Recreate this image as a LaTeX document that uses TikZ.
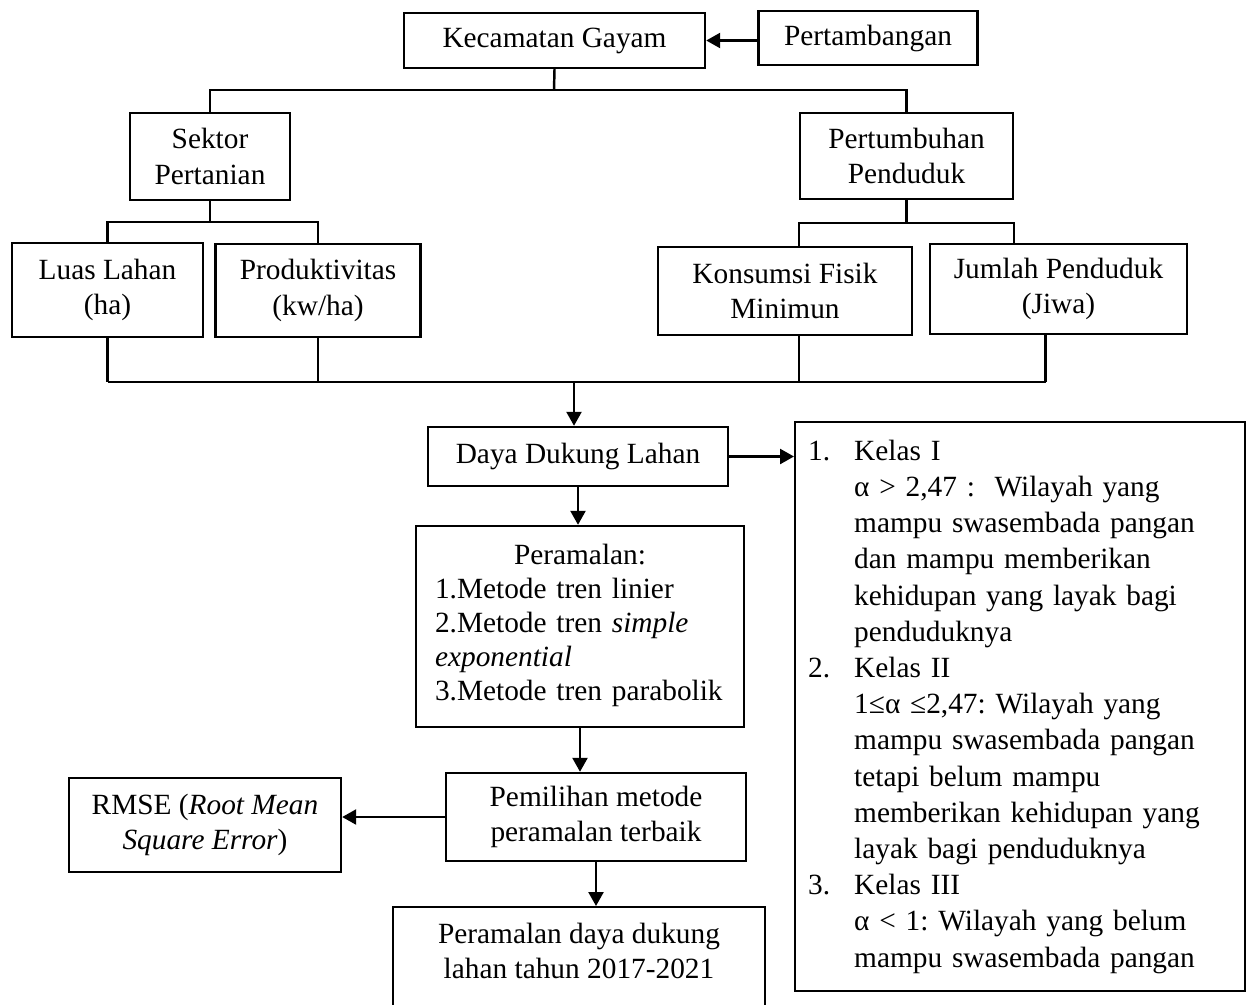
\documentclass[tikz,border=0pt]{standalone}
\usepackage{fontspec}
\setmainfont{Liberation Serif}
\usetikzlibrary{arrows.meta}
\frenchspacing

\newcommand{\kelasno}[1]{\makebox[0.92cm][l]{#1}}
\newcommand{\kelasind}{\hspace*{0.92cm}}

\begin{document}
\begin{tikzpicture}[x=0.02cm, y=-0.02cm,
    box/.style={draw, line width=1.4pt, align=center, inner sep=0pt,
        font=\fontsize{16.7}{20.4}\selectfont},
    ln/.style={line width=1.4pt},
    arr/.style={line width=1.4pt, -{Triangle[length=0.28cm, width=0.3cm]}}]
    \useasboundingbox (0,0) rectangle (1246,1004);

    \node[box, minimum width=6.02cm, minimum height=1.1cm] (kec) at (554.5,40.5) {Kecamatan Gayam};
    \node[box, minimum width=4.38cm, minimum height=1.08cm] (tambang) at (868,38) {Pertambangan};
    \node[box, minimum width=3.2cm, minimum height=1.74cm] (sektor) at (210,156.5) {Sektor\\Pertanian};
    \node[box, minimum width=4.26cm, minimum height=1.72cm] (tumbuh) at (906.5,156) {Pertumbuhan\\Penduduk};
    \node[box, minimum width=3.82cm, minimum height=1.88cm] (luas) at (107.5,290) {Luas Lahan\\(ha)};
    \node[box, minimum width=4.1cm, minimum height=1.86cm] (produk) at (318,290.5) {Produktivitas\\(kw/ha)};
    \node[box, minimum width=5.08cm, minimum height=1.76cm] (konsumsi) at (785,291) {Konsumsi Fisik\\Minimun};
    \node[box, minimum width=5.14cm, minimum height=1.8cm] (jumlah) at (1058.5,289) {Jumlah Penduduk\\(Jiwa)};
    \node[box, minimum width=6cm, minimum height=1.18cm] (daya) at (578,456.5) {Daya Dukung Lahan};
    \node[box, align=left, text width=5.8cm, inner xsep=0.38cm, minimum height=4.02cm,
        font=\fontsize{16.7}{19.4}\selectfont] (peramal) at (580,626.5)
        {\makebox[5.8cm]{Peramalan:}\\1.Metode tren linier\\2.Metode tren \textit{simple}\\\textit{exponential}\\3.Metode tren parabolik\rule[-0.16cm]{0pt}{0pt}};
    \node[box, minimum width=6cm, minimum height=1.76cm] (pilih) at (596,817) {Pemilihan metode\\peramalan terbaik};
    \node[box, minimum width=5.44cm, minimum height=1.88cm] (rmse) at (205,825) {RMSE (\textit{Root Mean}\\\textit{Square Error})};
    \node[box, anchor=north, minimum width=7.44cm, inner ysep=0.31cm] (akhir) at (579,906)
        {Peramalan daya dukung\\lahan tahun 2017-2021\rule[-1cm]{0pt}{0pt}};
    \node[box, anchor=north west, align=left, text width=8.48cm, inner xsep=0.26cm, minimum height=11.38cm,
        font=\fontsize{16.7}{20.6}\selectfont] (kelas) at (794,421)
        {\kelasno{1.}Kelas I\\
         \kelasind α > 2,47 :\ \ Wilayah yang\\
         \kelasind mampu swasembada pangan\\
         \kelasind dan mampu memberikan\\
         \kelasind kehidupan yang layak bagi\\
         \kelasind penduduknya\\
         \kelasno{2.}Kelas II\\
         \kelasind 1≤α ≤2,47: Wilayah yang\\
         \kelasind mampu swasembada pangan\\
         \kelasind tetapi belum mampu\\
         \kelasind memberikan kehidupan yang\\
         \kelasind layak bagi penduduknya\\
         \kelasno{3.}Kelas III\\
         \kelasind α < 1: Wilayah yang belum\\
         \kelasind mampu swasembada pangan};

    % cabang atas
    \coordinate (jkec) at (554,90);
    \coordinate (jsek) at (212,222);
    \coordinate (jtum) at (907,223);
    \coordinate (jbawah) at (574,382);
    \draw[arr] (tambang.west |- kec.east) -- (kec.east);
    \draw[ln] (kec.south) -- (jkec);
    \draw[ln] (sektor.north) |- (tumbuh.north |- jkec) -- (tumbuh.north);
    \draw[ln] (sektor.south) -- (sektor.south |- jsek);
    \draw[ln] (luas.north) |- (produk.north |- jsek) -- (produk.north);
    \draw[ln] (tumbuh.south) -- (tumbuh.south |- jtum);
    \draw[ln] (konsumsi.north -| tumbuh.west) -- (tumbuh.west |- jtum) -- (tumbuh.east |- jtum) -- (jumlah.north -| tumbuh.east);

    % cabang bawah
    \draw[ln] (luas.south) -- (luas.south |- jbawah);
    \draw[ln] (produk.south) -- (produk.south |- jbawah);
    \draw[ln] (konsumsi.south -| tumbuh.west) -- (tumbuh.west |- jbawah);
    \draw[ln] ([xshift=-0.26cm]jumlah.south) -- ([xshift=-0.26cm]jumlah.south |- jbawah);
    \draw[ln] (luas.south |- jbawah) -- ([xshift=-0.26cm]jumlah.south |- jbawah);
    \draw[arr] (jbawah) -- (daya.north -| jbawah);
    \draw[arr] (daya.east) -- (daya.east -| kelas.west);
    \draw[arr] (daya.south) -- (peramal.north -| daya.south);
    \draw[arr] (peramal.south) -- (pilih.north -| peramal.south);
    \draw[arr] (pilih.west) -- (rmse.east |- pilih.west);
    \draw[arr] (pilih.south) -- (akhir.north -| pilih.south);
\end{tikzpicture}
\end{document}
